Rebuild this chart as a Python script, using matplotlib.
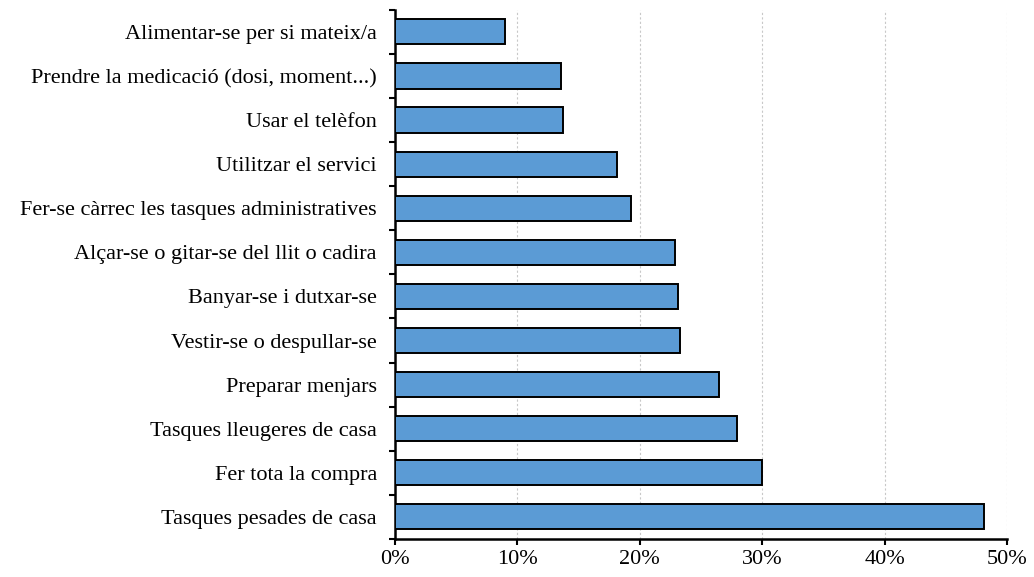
import matplotlib.pyplot as plt
from matplotlib.ticker import PercentFormatter, MultipleLocator

# categories from top to bottom as in the chart
tasks = [
    'Alimentar-se per si mateix/a',
    'Prendre la medicació (dosi, moment...)',
    'Usar el telèfon',
    'Utilitzar el servici',
    'Fer-se càrrec les tasques administratives',
    'Alçar-se o gitar-se del llit o cadira',
    'Banyar-se i dutxar-se',
    'Vestir-se o despullar-se',
    'Preparar menjars',
    'Tasques lleugeres de casa',
    'Fer tota la compra',
    'Tasques pesades de casa',
]
shares = [9.0, 13.6, 13.7, 18.1, 19.3, 22.9, 23.1, 23.3, 26.5, 27.9, 30.0, 48.1]

plt.rcParams['font.family'] = ['Liberation Serif', 'DejaVu Serif']

fig = plt.figure(figsize=(10.34, 5.77), dpi=100)
ax = fig.add_axes([0.382, 0.066, 0.592, 0.917])

pos = list(range(len(tasks)))[::-1]
ax.barh(pos, shares, height=0.57, color='#5B9BD5', edgecolor='black',
        linewidth=1.4, zorder=3)

ax.set_xlim(0, 50)
ax.set_ylim(-0.5, len(tasks) - 0.5)
ax.xaxis.set_major_locator(MultipleLocator(10))
ax.xaxis.set_major_formatter(PercentFormatter(decimals=0))
ax.grid(axis='x', color='#C8C8C8', linestyle=(0, (2, 2)), linewidth=0.8, zorder=0)

# labels centred on bars, ticks between categories
ax.set_yticks(pos)
ax.set_yticklabels(tasks)
ax.set_yticks([p - 0.5 for p in range(len(tasks) + 1)], minor=True)
ax.tick_params(axis='y', which='major', length=0, pad=13, labelsize=16)
ax.tick_params(axis='y', which='minor', length=4, width=1.5, direction='out')
ax.tick_params(axis='x', length=4, width=1.5, direction='out', labelsize=16, pad=4)

for side in ['top', 'right']:
    ax.spines[side].set_visible(False)
for side in ['left', 'bottom']:
    ax.spines[side].set_linewidth(1.8)

fig.savefig('out.png', dpi=100)
